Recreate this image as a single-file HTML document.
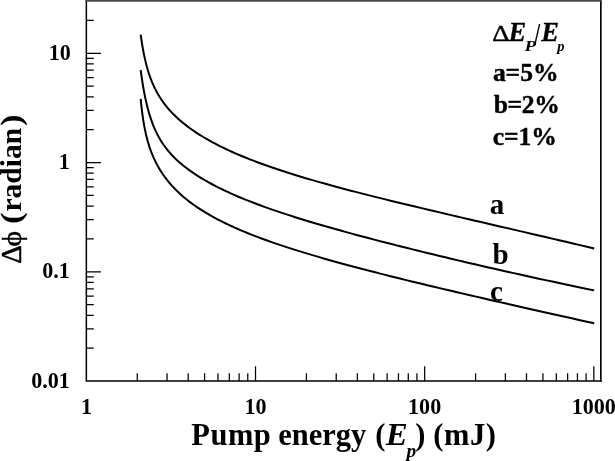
<!DOCTYPE html>
<html lang="en"><head><meta charset="utf-8"><title>Phase fluctuation vs pump energy</title>
<style>html,body{margin:0;padding:0;background:#fff}body{width:615px;height:461px;overflow:hidden}svg{display:block}</style>
</head><body>
<svg width="615" height="461" viewBox="0 0 615 461" font-family="'Liberation Serif', 'DejaVu Serif', serif" fill="#000">
<rect x="0" y="0" width="615" height="461" fill="#fff"/>
<path d="M86.35 0 V381.1 H601.5999999999999" stroke="#000" fill="none" stroke-width="1.5"/>
<path d="M600.8499999999999 381.85 V0" stroke="#000" stroke-width="1.65" fill="none"/>
<rect x="85.5" y="0" width="516.10" height="1.7" fill="#444"/>
<path d="M86.35 348.20h7.4M86.35 328.96h7.4M86.35 315.31h7.4M86.35 304.72h7.4M86.35 296.06h7.4M86.35 288.75h7.4M86.35 282.41h7.4M86.35 276.82h7.4M86.35 271.82h14.6M86.35 238.92h7.4M86.35 219.68h7.4M86.35 206.03h7.4M86.35 195.44h7.4M86.35 186.78h7.4M86.35 179.47h7.4M86.35 173.13h7.4M86.35 167.54h7.4M86.35 162.54h14.6M86.35 129.64h7.4M86.35 110.40h7.4M86.35 96.75h7.4M86.35 86.16h7.4M86.35 77.50h7.4M86.35 70.19h7.4M86.35 63.85h7.4M86.35 58.26h7.4M86.35 53.26h14.6M86.35 20.36h7.4M137.27 381.1v-7.75M167.06 381.1v-7.75M188.19 381.1v-7.75M204.59 381.1v-7.75M217.98 381.1v-7.75M229.31 381.1v-7.75M239.12 381.1v-7.75M247.77 381.1v-7.75M255.51 381.1v-14.95M306.43 381.1v-7.75M336.22 381.1v-7.75M357.35 381.1v-7.75M373.75 381.1v-7.75M387.14 381.1v-7.75M398.47 381.1v-7.75M408.28 381.1v-7.75M416.93 381.1v-7.75M424.67 381.1v-14.95M475.59 381.1v-7.75M505.38 381.1v-7.75M526.51 381.1v-7.75M542.91 381.1v-7.75M556.30 381.1v-7.75M567.63 381.1v-7.75M577.44 381.1v-7.75M586.09 381.1v-7.75M593.83 381.1v-14.95" stroke="#000" stroke-width="1.25" fill="none"/>
<g stroke="#000" fill="none" stroke-width="2.0" stroke-linejoin="round">
<path d="M140.70 34.66 L140.71 34.72 L140.74 34.96 L140.80 35.38 L140.88 36.01 L141.00 36.85 L141.15 37.90 L141.33 39.15 L141.55 40.60 L141.80 42.24 L142.09 44.04 L142.41 45.99 L142.77 48.08 L143.17 50.28 L143.61 52.58 L144.08 54.96 L144.60 57.40 L145.16 59.88 L145.75 62.39 L146.39 64.91 L147.07 67.43 L147.79 69.94 L148.56 72.44 L149.36 74.90 L150.22 77.34 L151.11 79.73 L152.05 82.09 L153.03 84.40 L154.06 86.66 L155.13 88.88 L156.25 91.06 L157.41 93.19 L158.62 95.27 L159.87 97.32 L161.17 99.32 L162.52 101.28 L163.92 103.21 L165.36 105.10 L166.85 106.96 L168.39 108.78 L169.97 110.57 L171.61 112.34 L173.29 114.08 L175.02 115.79 L176.80 117.48 L178.63 119.15 L180.51 120.80 L182.44 122.42 L184.42 124.03 L186.45 125.62 L188.53 127.19 L190.66 128.74 L192.84 130.28 L195.07 131.80 L197.35 133.30 L199.69 134.80 L202.07 136.27 L204.51 137.74 L207.00 139.19 L209.54 140.63 L212.13 142.06 L214.77 143.47 L217.47 144.87 L220.22 146.27 L223.03 147.65 L225.88 149.02 L228.79 150.38 L231.76 151.73 L234.77 153.07 L237.84 154.40 L240.97 155.72 L244.15 157.04 L247.38 158.35 L250.67 159.64 L254.01 160.93 L257.40 162.22 L260.85 163.49 L264.36 164.76 L267.92 166.03 L271.54 167.29 L275.21 168.54 L278.93 169.79 L282.72 171.03 L286.55 172.27 L290.45 173.51 L294.40 174.74 L298.40 175.97 L302.47 177.20 L306.58 178.42 L310.76 179.65 L314.99 180.87 L319.28 182.09 L323.63 183.32 L328.03 184.54 L332.49 185.76 L337.01 186.99 L341.58 188.21 L346.21 189.44 L350.90 190.67 L355.65 191.90 L360.46 193.14 L365.32 194.38 L370.24 195.63 L375.22 196.88 L380.26 198.13 L385.36 199.39 L390.51 200.66 L395.73 201.93 L401.00 203.21 L406.33 204.50 L411.72 205.79 L417.17 207.09 L422.68 208.40 L428.25 209.73 L433.88 211.06 L439.57 212.39 L445.32 213.74 L451.12 215.11 L456.99 216.48 L462.92 217.86 L468.90 219.25 L474.95 220.66 L481.06 222.08 L487.23 223.51 L493.45 224.96 L499.74 226.42 L506.09 227.89 L512.50 229.38 L518.97 230.88 L525.51 232.40 L532.10 233.93 L538.75 235.48 L545.47 237.04 L552.25 238.62 L559.08 240.22 L565.98 241.83 L572.95 243.46 L579.97 245.11 L587.05 246.78 L594.20 248.46"/>
<path d="M140.70 70.14 L140.71 70.21 L140.74 70.45 L140.80 70.89 L140.88 71.55 L141.00 72.42 L141.15 73.52 L141.33 74.83 L141.55 76.36 L141.80 78.08 L142.09 80.00 L142.41 82.09 L142.77 84.34 L143.17 86.72 L143.61 89.23 L144.08 91.84 L144.60 94.52 L145.16 97.27 L145.75 100.06 L146.39 102.88 L147.07 105.71 L147.79 108.53 L148.56 111.34 L149.36 114.12 L150.22 116.86 L151.11 119.55 L152.05 122.20 L153.03 124.78 L154.06 127.31 L155.13 129.77 L156.25 132.17 L157.41 134.50 L158.62 136.78 L159.87 138.99 L161.17 141.14 L162.52 143.23 L163.92 145.27 L165.36 147.26 L166.85 149.20 L168.39 151.09 L169.97 152.94 L171.61 154.74 L173.29 156.51 L175.02 158.25 L176.80 159.95 L178.63 161.63 L180.51 163.27 L182.44 164.89 L184.42 166.48 L186.45 168.06 L188.53 169.61 L190.66 171.14 L192.84 172.66 L195.07 174.16 L197.35 175.64 L199.69 177.11 L202.07 178.56 L204.51 180.00 L207.00 181.43 L209.54 182.84 L212.13 184.25 L214.77 185.64 L217.47 187.03 L220.22 188.40 L223.03 189.76 L225.88 191.12 L228.79 192.46 L231.76 193.80 L234.77 195.13 L237.84 196.46 L240.97 197.77 L244.15 199.08 L247.38 200.38 L250.67 201.68 L254.01 202.97 L257.40 204.26 L260.85 205.54 L264.36 206.82 L267.92 208.09 L271.54 209.36 L275.21 210.63 L278.93 211.89 L282.72 213.15 L286.55 214.41 L290.45 215.67 L294.40 216.93 L298.40 218.19 L302.47 219.45 L306.58 220.71 L310.76 221.97 L314.99 223.23 L319.28 224.49 L323.63 225.75 L328.03 227.02 L332.49 228.28 L337.01 229.56 L341.58 230.83 L346.21 232.11 L350.90 233.39 L355.65 234.68 L360.46 235.97 L365.32 237.26 L370.24 238.56 L375.22 239.87 L380.26 241.17 L385.36 242.49 L390.51 243.81 L395.73 245.14 L401.00 246.47 L406.33 247.81 L411.72 249.15 L417.17 250.50 L422.68 251.86 L428.25 253.22 L433.88 254.59 L439.57 255.96 L445.32 257.34 L451.12 258.73 L456.99 260.12 L462.92 261.52 L468.90 262.92 L474.95 264.33 L481.06 265.75 L487.23 267.17 L493.45 268.59 L499.74 270.02 L506.09 271.46 L512.50 272.89 L518.97 274.34 L525.51 275.78 L532.10 277.23 L538.75 278.69 L545.47 280.14 L552.25 281.60 L559.08 283.06 L565.98 284.53 L572.95 285.99 L579.97 287.46 L587.05 288.92 L594.20 290.39"/>
<path d="M140.70 98.87 L140.71 98.97 L140.74 99.31 L140.80 99.93 L140.88 100.85 L141.00 102.06 L141.15 103.54 L141.33 105.29 L141.55 107.27 L141.80 109.45 L142.09 111.81 L142.41 114.30 L142.77 116.91 L143.17 119.59 L143.61 122.33 L144.08 125.10 L144.60 127.87 L145.16 130.64 L145.75 133.39 L146.39 136.12 L147.07 138.80 L147.79 141.45 L148.56 144.04 L149.36 146.60 L150.22 149.10 L151.11 151.56 L152.05 153.97 L153.03 156.33 L154.06 158.65 L155.13 160.92 L156.25 163.16 L157.41 165.35 L158.62 167.50 L159.87 169.62 L161.17 171.70 L162.52 173.74 L163.92 175.75 L165.36 177.73 L166.85 179.68 L168.39 181.60 L169.97 183.49 L171.61 185.36 L173.29 187.19 L175.02 189.00 L176.80 190.78 L178.63 192.54 L180.51 194.28 L182.44 195.99 L184.42 197.68 L186.45 199.35 L188.53 200.99 L190.66 202.62 L192.84 204.22 L195.07 205.81 L197.35 207.37 L199.69 208.92 L202.07 210.45 L204.51 211.96 L207.00 213.46 L209.54 214.94 L212.13 216.41 L214.77 217.86 L217.47 219.29 L220.22 220.72 L223.03 222.13 L225.88 223.52 L228.79 224.91 L231.76 226.28 L234.77 227.64 L237.84 229.00 L240.97 230.34 L244.15 231.67 L247.38 233.00 L250.67 234.31 L254.01 235.62 L257.40 236.92 L260.85 238.22 L264.36 239.51 L267.92 240.79 L271.54 242.07 L275.21 243.34 L278.93 244.61 L282.72 245.87 L286.55 247.14 L290.45 248.40 L294.40 249.65 L298.40 250.91 L302.47 252.16 L306.58 253.41 L310.76 254.66 L314.99 255.91 L319.28 257.16 L323.63 258.42 L328.03 259.67 L332.49 260.92 L337.01 262.18 L341.58 263.43 L346.21 264.69 L350.90 265.95 L355.65 267.22 L360.46 268.49 L365.32 269.76 L370.24 271.04 L375.22 272.32 L380.26 273.60 L385.36 274.89 L390.51 276.18 L395.73 277.48 L401.00 278.79 L406.33 280.10 L411.72 281.42 L417.17 282.74 L422.68 284.07 L428.25 285.41 L433.88 286.76 L439.57 288.11 L445.32 289.47 L451.12 290.84 L456.99 292.22 L462.92 293.60 L468.90 294.99 L474.95 296.40 L481.06 297.81 L487.23 299.23 L493.45 300.66 L499.74 302.10 L506.09 303.54 L512.50 305.00 L518.97 306.47 L525.51 307.95 L532.10 309.44 L538.75 310.94 L545.47 312.45 L552.25 313.97 L559.08 315.50 L565.98 317.04 L572.95 318.60 L579.97 320.16 L587.05 321.74 L594.20 323.33"/>
</g>
<text transform="translate(48.74 59.86) scale(1.0000 1.0500)" font-size="22.1" font-weight="bold">10</text>
<text transform="translate(58.79 169.14) scale(1.0000 1.0500)" font-size="22.1" font-weight="bold">1</text>
<text transform="translate(42.22 278.42) scale(1.0000 1.0500)" font-size="22.1" font-weight="bold">0.1</text>
<text transform="translate(31.17 387.70) scale(1.0000 1.0500)" font-size="22.1" font-weight="bold">0.01</text>
<text transform="translate(80.96 414.20) scale(1.0000 1.0500)" font-size="22.1" font-weight="bold">1</text>
<text transform="translate(244.45 414.20) scale(1.0000 1.0500)" font-size="22.1" font-weight="bold">10</text>
<text transform="translate(408.08 414.20) scale(1.0000 1.0500)" font-size="22.1" font-weight="bold">100</text>
<text transform="translate(571.72 414.20) scale(1.0000 1.0500)" font-size="22.1" font-weight="bold">1000</text>
<text transform="translate(191.18 444.50)" font-size="30.5" font-weight="bold" letter-spacing="0.565">Pump</text>
<text transform="translate(278.36 444.50)" font-size="30.5" font-weight="bold" letter-spacing="-0.027">energy</text>
<text transform="translate(375.36 444.50)" font-size="30.5" font-weight="bold">(</text>
<text transform="translate(385.84 444.50) scale(1.0800 1.0000)" font-size="30.5" font-weight="bold" font-style="italic">E</text>
<text transform="translate(406.48 457.00) scale(1.0500 1.0000)" font-size="18.5" font-weight="bold" font-style="italic">p</text>
<text transform="translate(415.22 444.50)" font-size="30.5" font-weight="bold">)</text>
<text transform="translate(433.26 444.50)" font-size="30.5" font-weight="bold" letter-spacing="0.570">(mJ)</text>
<text transform="translate(21.20 263.80) rotate(-90)" font-size="29" stroke="#000" stroke-width="0.5">Δ</text>
<text transform="translate(21.20 246.59) rotate(-90) scale(1.0000 0.9400)" font-size="29.5" stroke="#000" stroke-width="0.5">ϕ</text>
<text transform="translate(21.20 223.93) rotate(-90) scale(1.1800 1.0000)" font-size="29.5" font-weight="bold">(</text>
<text transform="translate(21.20 211.49) rotate(-90)" font-size="29.5" font-weight="bold" letter-spacing="0.007">radian</text>
<text transform="translate(21.20 126.12) rotate(-90) scale(1.1800 1.0000)" font-size="29.5" font-weight="bold">)</text>
<text transform="translate(492.18 41.40) scale(1.1200 1.0000)" font-size="24" stroke="#000" stroke-width="0.45">Δ</text>
<text transform="translate(508.49 41.00)" font-size="26.5" font-weight="bold" font-style="italic" stroke="#000" stroke-width="0.3">E</text>
<text transform="translate(524.41 50.80) scale(1.1500 0.8800)" font-size="16.5" font-weight="bold" font-style="italic">P</text>
<text transform="translate(534.21 45.00) scale(0.8800 1.3000)" font-size="24" font-weight="bold">/</text>
<text transform="translate(541.19 41.00)" font-size="26.5" font-weight="bold" font-style="italic" stroke="#000" stroke-width="0.3">E</text>
<text transform="translate(557.33 50.70)" font-size="14.5" font-weight="bold" font-style="italic">p</text>
<text transform="translate(492.88 80.70)" font-size="25.6" font-weight="bold" letter-spacing="-0.054" stroke="#000" stroke-width="0.4">a=5%</text>
<text transform="translate(493.78 112.60)" font-size="25.6" font-weight="bold" letter-spacing="-0.400" stroke="#000" stroke-width="0.4">b=2%</text>
<text transform="translate(492.82 144.50)" font-size="25.6" font-weight="bold" letter-spacing="-0.092" stroke="#000" stroke-width="0.4">c=1%</text>
<text transform="translate(489.77 214.00) scale(1.0000 1.0500)" font-size="29" font-weight="bold">a</text>
<text transform="translate(492.43 263.60) scale(1.0000 1.0200)" font-size="29" font-weight="bold">b</text>
<text transform="translate(489.91 300.60) scale(1.0000 1.0500)" font-size="29" font-weight="bold">c</text>
</svg>
</body></html>
